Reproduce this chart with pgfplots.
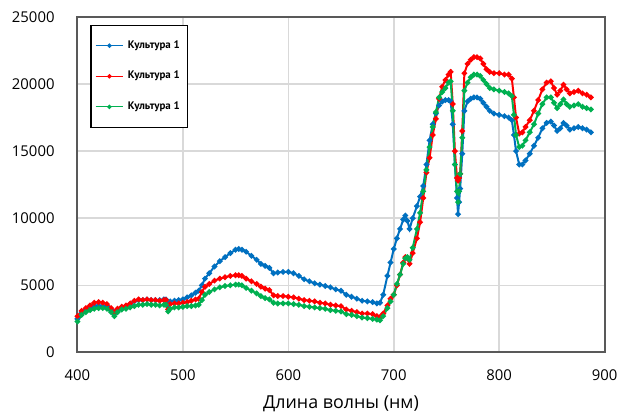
\documentclass[border=0pt]{standalone}
\usepackage{pgfplots}
\pgfplotsset{compat=1.18}
\usepackage{pgfplotstable}
\usepackage{fontspec}
\setmainfont{Open Sans}
\newfontfamily\legfont{PT Sans}
\definecolor{cBlue}{HTML}{0070C0}
\definecolor{cRed}{HTML}{FF0000}
\definecolor{cGreen}{HTML}{00B050}
\definecolor{cGrid}{HTML}{D9D9D9}
\definecolor{cFrame}{HTML}{595959}

% x  blue  red  green
\pgfplotstableread{
x B R G
400 2500 2700 2300
404 3000 3100 2800
408 3200 3300 3000
412 3300 3500 3150
416 3450 3700 3250
420 3500 3750 3300
424 3450 3700 3300
428 3400 3600 3250
432 3200 3300 3000
435 2950 3000 2700
438 3200 3250 3000
442 3350 3400 3200
446 3450 3500 3250
450 3600 3650 3350
454 3800 3850 3450
458 3900 3950 3550
462 3900 3900 3550
466 3950 3950 3600
470 3900 3900 3550
474 3900 3900 3550
478 3900 3850 3500
482 3950 3900 3550
484 3950 3900 3550
486 3500 3200 3050
488 3800 3600 3250
492 3850 3650 3350
496 3900 3650 3350
500 3950 3700 3400
504 4100 3750 3450
508 4250 3850 3450
512 4450 3950 3500
515 4600 4000 3550
518 5000 4500 3900
521 5500 4900 4300
525 5900 5100 4500
530 6400 5350 4700
535 6800 5500 4850
540 7100 5600 4950
545 7400 5700 5000
550 7650 5750 5050
553 7700 5750 5050
556 7650 5700 5000
560 7500 5500 4800
565 7200 5300 4600
570 6900 5100 4400
574 6600 4900 4200
578 6450 4750 4050
582 6300 4650 3950
586 5900 4250 3700
590 5950 4200 3650
595 6000 4200 3650
600 6000 4150 3650
605 5900 4100 3600
610 5700 4000 3550
615 5450 3900 3450
620 5300 3850 3400
625 5150 3800 3350
630 5050 3700 3300
635 4950 3650 3250
640 4850 3550 3150
645 4700 3500 3100
650 4600 3450 3050
655 4300 3200 2850
660 4150 3100 2800
665 4000 3000 2700
670 3850 2900 2600
675 3800 2900 2550
680 3750 2850 2500
684 3650 2700 2450
687 3700 2650 2400
690 4300 2900 2700
694 5700 3500 3300
697 6700 4000 3800
700 7700 4300 4300
703 8500 5000 5100
706 9200 5800 5800
709 9900 6700 6600
711 10200 7100 7000
713 9800 7000 7100
715 9200 6600 6900
718 10000 7400 7800
722 10900 8500 9200
725 11600 9700 10400
728 12400 11500 12000
731 14000 13400 13600
734 15800 14500 15300
737 17000 16200 16800
740 17800 17400 17900
743 18400 18900 19000
746 18700 19800 19400
749 18800 20300 19700
752 18800 20700 20100
754 18700 20900 20200
756 17000 18500 18000
758 14000 15000 14000
760 11500 13000 12000
761 10300 12800 11200
762 11200 13000 12000
763 12200 13300 13300
765 14800 16500 16000
767 18000 20800 19500
770 18700 21500 20100
773 18900 21800 20500
776 19000 22000 20700
779 19000 22000 20700
782 18900 21900 20600
785 18600 21500 20300
788 18300 21100 20000
791 18000 20900 19700
795 17800 20800 19600
800 17700 20800 19500
805 17600 20700 19400
809 17500 20700 19300
812 17300 20400 19100
814 16200 19000 17700
816 15000 17500 16200
819 14000 16300 15300
822 14000 16400 15400
825 14300 16800 15800
829 14800 17300 16400
833 15400 18000 17000
837 16000 18800 17800
841 16700 19600 18500
845 17100 20100 19000
849 17200 20200 19000
852 16900 19700 18600
855 16500 19200 18200
858 16700 19500 18500
861 17100 19950 18850
864 16900 19600 18500
867 16600 19300 18300
871 16700 19400 18400
875 16800 19500 18500
879 16700 19300 18300
883 16600 19200 18200
887 16400 19000 18100
}\spec

\begin{document}
\begin{tikzpicture}
\begin{axis}[
  scale only axis, width=265.5pt, height=169pt,
  xmin=400, xmax=900, ymin=0, ymax=25000,
  xtick={400,500,...,900}, ytick={0,5000,...,25000},
  grid=major, grid style={cGrid, line width=0.8pt},
  axis line style={cFrame, line width=1pt},
  major tick length=0pt,
  /pgf/number format/1000 sep={},
  /pgf/number format/assume math mode=true,
  ticklabel style={font=\fontsize{7.5}{9}\selectfont},
  xticklabel style={yshift=-5pt},
  yticklabel style={xshift=-8pt},
  scaled y ticks=false,
  xlabel={Длина волны (нм)},
  xlabel style={font=\fontsize{9}{11}\selectfont, yshift=-1pt},
  every axis plot/.append style={line width=1pt, mark=*, mark size=0.85pt},
  legend cell align=left,
  legend style={at={(0,1)}, anchor=north west, xshift=6.5pt, yshift=-4pt,
    draw=black, line width=0.6pt, inner xsep=2pt, inner ysep=5.5pt,
    row sep=6pt, font=\legfont\bfseries\fontsize{5.5}{6}\selectfont},
  legend image code/.code={\draw[#1, line width=0.6pt, mark size=0.8pt, mark repeat=2, mark phase=2]
    plot coordinates {(0pt,0pt) (7pt,0pt) (14pt,0pt)};},
]
\addplot[cBlue, mark options={fill=cBlue}] table[x=x,y=B] {\spec};
\addlegendentry{Культура 1}
\addplot[cRed, mark options={fill=cRed}] table[x=x,y=R] {\spec};
\addlegendentry{Культура 1}
\addplot[cGreen, mark options={fill=cGreen}] table[x=x,y=G] {\spec};
\addlegendentry{Культура 1}
\end{axis}
\path (current axis.south west) ++(-39pt,-28.5pt) rectangle ++(312pt,206pt);
\end{tikzpicture}
\end{document}
